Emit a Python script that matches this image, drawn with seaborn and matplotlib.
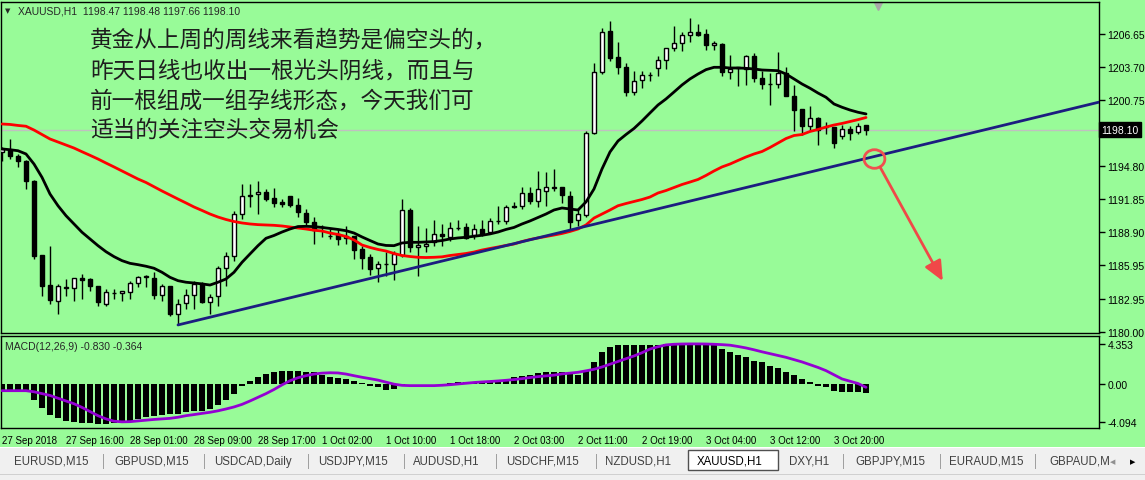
"""XAUUSD H1 chart with moving averages, trend line and MACD panel."""

import matplotlib

matplotlib.use("Agg")
import matplotlib.pyplot as plt
import numpy as np
import pandas as pd
import seaborn as sns
from matplotlib.patches import Ellipse, Rectangle

# --- data --------------------------------------------------------------------
opens = [
    1196.10, 1196.30, 1195.77, 1195.32, 1193.53, 1186.88, 1184.20, 1182.80, 1183.95, 1183.91,
    1184.80, 1184.74, 1184.09, 1182.50, 1183.45, 1183.46, 1183.60, 1184.38, 1184.89, 1184.80,
    1183.34, 1184.09, 1181.61, 1182.59, 1183.30, 1184.30, 1182.66, 1183.20, 1185.70, 1186.82,
    1190.55, 1192.20, 1192.35, 1192.50, 1191.98, 1191.65, 1192.14, 1191.36, 1190.64, 1189.81,
    1189.35, 1188.60, 1188.77, 1188.41, 1188.59, 1187.42, 1186.68, 1185.70, 1186.05, 1186.04,
    1186.85, 1190.91, 1187.57, 1187.69, 1188.02, 1188.72, 1188.47, 1189.34, 1189.36, 1188.63,
    1189.21, 1188.92, 1189.90, 1189.90, 1191.27, 1191.24, 1192.43, 1191.74, 1192.64, 1192.90,
    1192.94, 1192.20, 1190.00, 1190.46, 1197.77, 1203.22, 1206.89, 1204.57, 1203.67, 1201.44,
    1202.54, 1202.98, 1203.58, 1204.35, 1205.37, 1205.85, 1206.56, 1206.80, 1206.65, 1205.67,
    1205.76, 1203.22, 1203.65, 1203.52, 1204.66, 1202.69, 1202.18, 1202.18, 1203.16, 1201.08,
    1199.94, 1198.40, 1199.14, 1198.30, 1198.31, 1197.50, 1198.15, 1197.86, 1198.47,
]
highs = [
    1196.55, 1197.26, 1195.90, 1195.40, 1193.60, 1186.90, 1187.72, 1184.30, 1184.74, 1184.83,
    1185.19, 1184.80, 1184.15, 1183.85, 1183.85, 1183.69, 1184.59, 1185.03, 1185.10, 1185.34,
    1184.30, 1184.15, 1182.95, 1183.85, 1184.59, 1184.47, 1183.40, 1185.93, 1187.15, 1190.85,
    1193.24, 1193.24, 1193.53, 1192.79, 1192.85, 1191.89, 1192.19, 1191.98, 1191.00, 1190.26,
    1189.57, 1189.21, 1189.21, 1189.51, 1188.60, 1187.72, 1186.98, 1186.35, 1187.13, 1187.27,
    1191.89, 1191.06, 1189.45, 1189.26, 1190.02, 1189.66, 1189.84, 1190.04, 1189.75, 1189.66,
    1190.04, 1190.17, 1191.24, 1191.36, 1191.60, 1192.94, 1192.94, 1194.40, 1194.31, 1194.58,
    1193.00, 1192.57, 1191.06, 1198.00, 1204.06, 1207.16, 1207.84, 1205.91, 1204.06, 1203.37,
    1203.37, 1203.28, 1204.66, 1205.40, 1207.39, 1206.80, 1208.05, 1207.54, 1207.10, 1206.05,
    1205.80, 1204.77, 1203.70, 1204.77, 1204.95, 1203.37, 1203.16, 1205.07, 1203.67, 1202.09,
    1199.95, 1200.18, 1199.20, 1198.75, 1198.35, 1198.51, 1198.40, 1198.69, 1198.48,
]
lows = [
    1195.32, 1195.47, 1194.73, 1192.79, 1186.53, 1183.25, 1182.50, 1181.61, 1183.25, 1182.80,
    1182.95, 1183.69, 1182.35, 1182.35, 1182.95, 1182.80, 1182.95, 1184.00, 1184.00, 1182.95,
    1182.80, 1181.46, 1180.65, 1182.06, 1182.06, 1182.60, 1181.61, 1182.35, 1184.14, 1186.38,
    1190.11, 1191.18, 1190.55, 1191.74, 1191.15, 1191.15, 1191.15, 1190.29, 1189.50, 1187.87,
    1188.50, 1188.32, 1187.78, 1187.87, 1186.53, 1185.63, 1185.10, 1184.44, 1185.03, 1184.68,
    1186.71, 1187.13, 1185.00, 1187.15, 1187.66, 1187.72, 1188.14, 1189.15, 1188.32, 1188.32,
    1188.56, 1188.77, 1189.66, 1189.66, 1191.06, 1191.00, 1191.45, 1191.18, 1191.27, 1192.64,
    1191.54, 1189.21, 1189.51, 1190.26, 1197.70, 1203.07, 1204.26, 1203.07, 1201.13, 1201.20,
    1201.80, 1202.47, 1202.87, 1203.52, 1205.16, 1205.16, 1205.91, 1206.50, 1205.25, 1205.25,
    1202.87, 1202.63, 1202.03, 1202.09, 1202.38, 1201.73, 1200.30, 1201.80, 1201.10, 1198.00,
    1197.62, 1198.00, 1196.75, 1197.71, 1196.43, 1197.26, 1197.20, 1197.71, 1197.66,
]
closes = [
    1196.32, 1195.71, 1195.32, 1193.53, 1186.82, 1184.14, 1182.89, 1184.14, 1184.05, 1184.80,
    1184.67, 1184.09, 1182.71, 1183.55, 1183.50, 1183.64, 1184.38, 1184.89, 1185.03, 1183.34,
    1184.09, 1181.61, 1182.50, 1183.30, 1184.30, 1182.66, 1183.16, 1185.70, 1186.82, 1190.55,
    1192.19, 1192.27, 1192.50, 1191.89, 1191.54, 1191.45, 1191.36, 1190.71, 1189.87, 1189.12,
    1189.40, 1188.55, 1188.32, 1188.56, 1187.36, 1186.65, 1185.66, 1186.06, 1186.10, 1186.95,
    1190.87, 1187.57, 1187.74, 1187.87, 1188.72, 1188.54, 1189.27, 1189.26, 1188.38, 1189.21,
    1188.77, 1189.90, 1189.95, 1191.15, 1191.15, 1192.43, 1191.74, 1192.79, 1192.94, 1192.96,
    1192.25, 1189.87, 1190.55, 1197.77, 1203.22, 1206.86, 1204.48, 1203.67, 1201.44, 1202.47,
    1203.01, 1203.00, 1204.35, 1205.37, 1205.85, 1206.56, 1206.80, 1206.56, 1205.67, 1205.85,
    1203.22, 1203.52, 1203.67, 1204.66, 1202.69, 1202.18, 1202.20, 1203.16, 1201.13, 1199.88,
    1198.45, 1199.14, 1198.09, 1198.33, 1196.90, 1198.15, 1197.77, 1198.40, 1198.10,
]
ma_fast = [
    1196.37, 1196.30, 1196.21, 1195.92, 1195.02, 1193.83, 1192.34, 1191.29, 1190.40, 1189.66,
    1188.92, 1188.32, 1187.72, 1187.18, 1186.74, 1186.38, 1186.14, 1186.02, 1185.88, 1185.70,
    1185.34, 1184.89, 1184.59, 1184.45, 1184.38, 1184.30, 1184.20, 1184.45, 1184.74, 1185.34,
    1186.23, 1186.98, 1187.72, 1188.38, 1188.63, 1188.94, 1189.21, 1189.43, 1189.45, 1189.42,
    1189.35, 1189.26, 1189.17, 1189.06, 1188.85, 1188.50, 1188.18, 1187.87, 1187.74, 1187.72,
    1187.96, 1188.02, 1188.02, 1188.05, 1188.09, 1188.18, 1188.32, 1188.41, 1188.47, 1188.56,
    1188.65, 1188.77, 1188.94, 1189.17, 1189.35, 1189.66, 1189.93, 1190.24, 1190.55, 1190.91,
    1191.09, 1191.00, 1190.91, 1191.63, 1192.79, 1194.58, 1196.10, 1197.08, 1197.66, 1198.20,
    1198.87, 1199.59, 1200.30, 1200.84, 1201.46, 1202.09, 1202.63, 1203.07, 1203.46, 1203.67,
    1203.67, 1203.61, 1203.61, 1203.58, 1203.52, 1203.43, 1203.40, 1203.37, 1203.07, 1202.63,
    1202.18, 1201.80, 1201.37, 1200.99, 1200.39, 1200.10, 1199.85, 1199.65, 1199.50,
]
ma_slow = [
    1198.60, 1198.56, 1198.47, 1198.40, 1198.06, 1197.66, 1197.26, 1196.99, 1196.72, 1196.45,
    1196.12, 1195.80, 1195.47, 1195.11, 1194.76, 1194.40, 1194.04, 1193.68, 1193.37, 1192.99,
    1192.61, 1192.25, 1191.89, 1191.54, 1191.18, 1190.87, 1190.55, 1190.28, 1190.06, 1189.88,
    1189.75, 1189.66, 1189.60, 1189.57, 1189.54, 1189.48, 1189.39, 1189.30, 1189.21, 1189.10,
    1189.03, 1188.85, 1188.72, 1188.54, 1188.23, 1187.78, 1187.56, 1187.38, 1187.24, 1187.02,
    1186.84, 1186.75, 1186.68, 1186.66, 1186.68, 1186.72, 1186.84, 1186.93, 1187.02, 1187.15,
    1187.33, 1187.47, 1187.60, 1187.74, 1187.87, 1188.09, 1188.27, 1188.41, 1188.54, 1188.67,
    1188.81, 1188.99, 1189.21, 1189.57, 1190.19, 1190.55, 1190.91, 1191.29, 1191.49, 1191.67,
    1191.85, 1192.07, 1192.43, 1192.65, 1192.92, 1193.19, 1193.41, 1193.64, 1194.00, 1194.40,
    1194.76, 1195.02, 1195.34, 1195.65, 1195.92, 1196.14, 1196.50, 1196.90, 1197.30, 1197.57,
    1197.66, 1197.93, 1198.11, 1198.33, 1198.51, 1198.65, 1198.82, 1198.99, 1199.18,
]
macd_hist = [
    -0.75, -0.75, -0.75, -0.85, -1.70, -2.60, -3.37, -3.70, -4.03, -4.17,
    -4.24, -4.30, -4.35, -4.35, -4.28, -4.17, -4.00, -3.80, -3.63, -3.52,
    -3.37, -3.30, -3.26, -3.08, -2.90, -2.90, -2.72, -2.29, -1.74, -1.09,
    -0.25, 0.36, 0.73, 1.09, 1.27, 1.38, 1.38, 1.38, 1.34, 1.27,
    1.02, 0.73, 0.62, 0.54, 0.29, 0.11, -0.25, -0.36, -0.62, -0.54,
    -0.11, -0.04, -0.04, -0.04, 0.02, 0.02, 0.11, 0.18, 0.25, 0.25,
    0.25, 0.29, 0.36, 0.44, 0.73, 0.91, 0.98, 1.16, 1.27, 1.34,
    1.34, 1.10, 1.00, 1.45, 2.36, 3.45, 3.99, 4.20, 4.20, 4.20,
    4.20, 4.20, 4.20, 4.30, 4.35, 4.35, 4.35, 4.35, 4.35, 4.20,
    3.81, 3.45, 3.16, 2.90, 2.54, 2.36, 1.99, 1.70, 1.34, 0.98,
    0.54, 0.18, -0.18, -0.36, -0.73, -0.83, -0.83, -0.91, -0.95,
]
macd_signal = [
    -0.73, -0.73, -0.73, -0.73, -0.85, -1.05, -1.25, -1.55, -1.85, -2.15,
    -2.55, -3.00, -3.45, -3.80, -4.05, -4.12, -4.10, -4.02, -3.94, -3.86,
    -3.80, -3.74, -3.62, -3.45, -3.33, -3.20, -3.08, -2.92, -2.72, -2.50,
    -2.22, -1.85, -1.45, -1.05, -0.60, -0.10, 0.35, 0.68, 0.90, 1.08,
    1.18, 1.22, 1.20, 1.08, 0.90, 0.73, 0.58, 0.42, 0.20, -0.02,
    -0.15, -0.18, -0.18, -0.18, -0.18, -0.14, -0.08, 0.00, 0.08, 0.16,
    0.22, 0.27, 0.33, 0.40, 0.48, 0.58, 0.70, 0.80, 0.88, 0.96,
    1.10, 1.18, 1.27, 1.43, 1.60, 1.85, 2.15, 2.45, 2.75, 3.05,
    3.40, 3.80, 4.05, 4.25, 4.32, 4.35, 4.36, 4.36, 4.35, 4.32,
    4.28, 4.22, 4.08, 3.92, 3.72, 3.50, 3.30, 3.10, 2.90, 2.65,
    2.40, 2.10, 1.80, 1.45, 1.00, 0.55, 0.30, 0.05, -0.364,
]

# trend line drawn on the chart: (bar, price) at both ends
trend_bars = [22, 137.1]
trend_prices = [1180.63, 1200.55]

last_price = 1198.10
price_ticks = [1206.65, 1203.70, 1200.75, 1194.80, 1191.85, 1188.90, 1185.95, 1182.95, 1180.00]
macd_ticks = [4.353, 0.0, -4.094]
macd_tick_labels = ["4.353", "0.00", "-4.094"]
time_labels = [
    "27 Sep 2018", "27 Sep 16:00", "28 Sep 01:00", "28 Sep 09:00", "28 Sep 17:00",
    "1 Oct 02:00", "1 Oct 10:00", "1 Oct 18:00", "2 Oct 03:00", "2 Oct 11:00",
    "2 Oct 19:00", "3 Oct 04:00", "3 Oct 12:00", "3 Oct 20:00",
]
tabs = [
    "EURUSD,M15", "GBPUSD,M15", "USDCAD,Daily", "USDJPY,M15", "AUDUSD,H1", "USDCHF,M15",
    "NZDUSD,H1", "XAUUSD,H1", "DXY,H1", "GBPJPY,M15", "EURAUD,M15", "GBPAUD,M",
]
comment_lines = [
    "黄金从上周的周线来看趋势是偏空头的，",
    "昨天日线也收出一根光头阴线，而且与",
    "前一根组成一组孕线形态，今天我们可",
    "适当的关注空头交易机会",
]

# --- layout ------------------------------------------------------------------
W, H = 1145, 481
BG = "#98FB98"
TAB_X = [14, 114, 214, 318, 413, 506, 605, 697, 789, 855, 949, 1049]
TAB_SEPS = [103, 204, 308, 404, 496, 596, 843, 940, 1035]
COMMENT_Y = [40, 71, 101, 130]
MARK_CENTER = (109.06, 1195.47)   # red circle around the trend line
ARROW_FROM = (109.75, 1194.76)
ARROW_TO = (117.6, 1184.56)


def fx(px):
    return px / W


def fy(py):
    return 1 - py / H


sns.set_theme(style="white")
plt.rcParams["font.family"] = ["Liberation Sans", "DejaVu Sans"]

df = pd.DataFrame({
    "bar": np.arange(len(opens)),
    "open": opens, "high": highs, "low": lows, "close": closes,
    "ma_fast": ma_fast, "ma_slow": ma_slow,
    "hist": macd_hist, "signal": macd_signal,
})

fig = plt.figure(figsize=(W / 100, H / 100), dpi=100, facecolor=BG)
ax = fig.add_axes([fx(1), fy(334), fx(1099) - fx(1), fy(3) - fy(334)], facecolor=BG)
axm = fig.add_axes([fx(1), fy(429), fx(1099) - fx(1), fy(337) - fy(429)],
                   facecolor=BG, sharex=ax)

# candles
up = df["close"] >= df["open"]
ax.axhline(last_price, color="#c0c0c0", lw=1, zorder=1)
ax.vlines(df["bar"], df["low"], df["high"], color="black", lw=1, zorder=3)
ax.bar(df["bar"], (df["close"] - df["open"]).abs().clip(lower=0.02),
       bottom=np.minimum(df["open"], df["close"]), width=0.62,
       color=np.where(up, "white", "black"), edgecolor="black", linewidth=1, zorder=4)

sns.lineplot(data=df, x="bar", y="ma_slow", color="#ff0000", lw=2, ax=ax, zorder=5)
sns.lineplot(data=df, x="bar", y="ma_fast", color="black", lw=2, ax=ax, zorder=5)
ax.plot(trend_bars, trend_prices, color="#1c1c80", lw=2, zorder=6)

# hand-drawn marks
ax.add_patch(Ellipse(MARK_CENTER, 2.6, 1.66, fill=False, ec="#f05050", lw=2, zorder=7))
ax.annotate("", xy=ARROW_TO, xytext=ARROW_FROM,
            arrowprops=dict(arrowstyle="-|>,head_length=1.0,head_width=0.45",
                            color="#f04848", lw=2, shrinkA=0, shrinkB=0), zorder=7)

ax.set_xlim(-0.125, 137.125)
ax.set_ylim(1179.91, 1209.51)
ax.set_xlabel("")
ax.set_ylabel("")
ax.tick_params(axis="x", bottom=False, labelbottom=False)
ax.yaxis.tick_right()
ax.set_yticks(price_ticks)
ax.set_yticklabels([f"{p:.2f}" for p in price_ticks])
ax.tick_params(axis="y", direction="out", length=4, width=1, pad=2,
               labelsize=7.5, colors="black")
ax.text(1.002, last_price, f"{last_price:.2f}", transform=ax.get_yaxis_transform(),
        ha="left", va="center", fontsize=7.5, color="white",
        bbox=dict(boxstyle="square,pad=0.25", fc="black", ec="black"))
ax.plot([109.5], [0.988], marker="v", ms=6, color="#a8a8a8",
        transform=ax.get_xaxis_transform(), clip_on=False)

# MACD panel
axm.bar(df["bar"], df["hist"], width=0.65, color="black", edgecolor="none",
        linewidth=0, zorder=3)
sns.lineplot(data=df, x="bar", y="signal", color="#9400D3", lw=2, ax=axm, zorder=4)
axm.set_ylim(-4.79, 5.22)
axm.set_xlabel("")
axm.set_ylabel("")
axm.yaxis.tick_right()
axm.set_yticks(macd_ticks)
axm.set_yticklabels(macd_tick_labels)
axm.set_xticks(np.arange(len(time_labels)) * 8)
axm.set_xticklabels(time_labels, ha="left")
axm.tick_params(axis="y", direction="out", length=4, width=1, pad=2,
                labelsize=7.5, colors="black")
axm.tick_params(axis="x", direction="out", length=4, width=1, pad=1,
                labelsize=7, colors="black")

for a in (ax, axm):
    for s in a.spines.values():
        s.set_color("black")
        s.set_linewidth(1)

# texts
fig.text(fx(5), fy(11), "▼", fontsize=5, va="center", family=["DejaVu Sans"])
fig.text(fx(18), fy(11), "XAUUSD,H1  1198.47 1198.48 1197.66 1198.10", fontsize=7.5, va="center")
fig.text(fx(5), fy(347), "MACD(12,26,9) -0.830 -0.364", fontsize=7.5, va="center")
for line, y in zip(comment_lines, COMMENT_Y):
    fig.text(fx(90), fy(y), line, fontsize=16.3, va="center", color="#1e1e1e",
             family=["Noto Sans CJK SC", "DejaVu Sans"])

# terminal tab bar
fig.patches.append(Rectangle((0, 0), 1, fy(449), transform=fig.transFigure,
                             fc="#f0f0f0", ec="none", zorder=0))
fig.patches.append(Rectangle((0, fy(449)), 1, 1 / H, transform=fig.transFigure,
                             fc="#ffffff", ec="none", zorder=1))
fig.patches.append(Rectangle((0, fy(476)), 1, 1 / H, transform=fig.transFigure,
                             fc="#d0d0d0", ec="none", zorder=1))
for sx in TAB_SEPS:
    fig.patches.append(Rectangle((fx(sx), fy(470)), 1 / W, 15 / H, transform=fig.transFigure,
                                 fc="#a0a0a0", ec="none", zorder=1))
fig.patches.append(Rectangle((fx(688), fy(471)), fx(90), 20 / H, transform=fig.transFigure,
                             fc="white", ec="#505050", lw=1, zorder=2))
for name, tx in zip(tabs, TAB_X):
    fig.text(fx(tx), fy(462), name, fontsize=8.3, va="center",
             color="black" if name == "XAUUSD,H1" else "#404040", zorder=3)
fig.text(fx(1110), fy(462), "◀", fontsize=5, va="center", color="#909090", family=["DejaVu Sans"])
fig.text(fx(1130), fy(462), "▶", fontsize=5, va="center", color="black", family=["DejaVu Sans"])

fig.savefig("out.png", dpi=100, facecolor=BG)
plt.close(fig)
